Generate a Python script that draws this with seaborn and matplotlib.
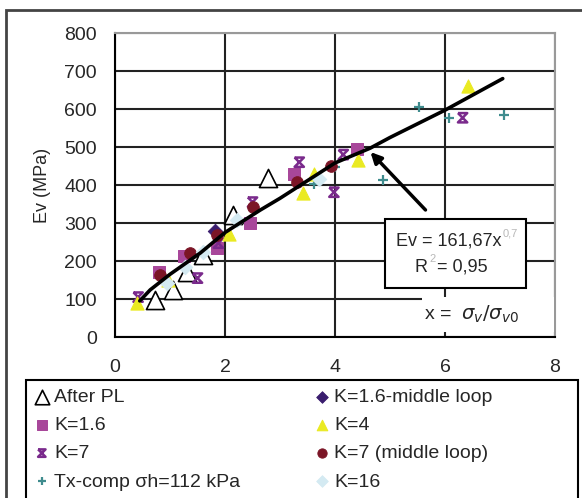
import matplotlib
matplotlib.use("Agg")
import matplotlib.pyplot as plt
import seaborn as sns
import pandas as pd
from matplotlib.path import Path
from matplotlib.patches import Rectangle

# series (x = sigma_v / sigma_v0, Ev in MPa)
after_pl_x = [0.73, 1.05, 1.3, 1.6, 2.15, 2.78]
after_pl_y = [97, 125, 170, 215, 320, 418]

k16_x = [0.8, 1.25, 1.85, 2.45, 3.25, 4.4]
k16_y = [170, 212, 235, 300, 428, 495]

k16_ml_x = [1.82]
k16_ml_y = [280]

k4_x = [0.4, 0.97, 2.08, 3.42, 3.62, 4.42, 6.42]
k4_y = [90, 150, 270, 380, 430, 466, 660]

k7_x = [0.42, 1.5, 1.88, 2.5, 3.35, 3.98, 4.15, 6.32]
k7_y = [105, 155, 247, 355, 460, 381, 480, 577]

k7_ml_x = [0.82, 1.37, 1.85, 2.5, 3.31, 3.92]
k7_ml_y = [163, 222, 268, 342, 408, 450]

tx_x = [3.62, 4.0, 4.88, 5.52, 6.07, 7.07]
tx_y = [402, 448, 413, 605, 576, 584]

k_16_x = [0.95, 1.28, 1.6, 2.22, 3.7]
k_16_y = [142, 184, 224, 308, 415]

fit_x = [0.45, 0.64, 1.0, 1.55, 2.0, 2.64, 3.0, 4.0, 4.64, 5.0, 6.0, 7.05]
fit_y = [95, 124, 165, 221, 275, 334, 365, 458, 497, 525, 597, 680]

x_ticks = [0, 2, 4, 6, 8]
y_ticks = [0, 100, 200, 300, 400, 500, 600, 700, 800]

sns.set_style("white")
plt.rcParams['font.family'] = ['Liberation Sans', 'DejaVu Sans']

W, H = 582, 498
fig = plt.figure(figsize=(W / 100, H / 100), dpi=100)
ax = fig.add_axes([115 / W, 1 - 337 / H, 440 / W, 304 / H])

# hourglass-like marker used for K=7
hg = Path([(-1, 1), (1, 1), (-1, -1), (1, -1), (-1, 1)],
          [Path.MOVETO, Path.LINETO, Path.LINETO, Path.LINETO, Path.LINETO])

series = [
    ("After PL", after_pl_x, after_pl_y, dict(marker="^", s=170, color="white", edgecolor="black", linewidth=1.2)),
    ("K=1.6", k16_x, k16_y, dict(marker="s", s=80, color="#a8479a", edgecolor="#a8479a")),
    ("K=7", k7_x, k7_y, dict(marker=hg, s=45, color="none", edgecolor="#7a2a8c", linewidth=1.8)),
    ("Tx-comp σh=112 kPa", tx_x, tx_y, dict(marker="+", s=60, color="#3f8c8e", linewidth=1.6)),
    ("K=1.6-middle loop", k16_ml_x, k16_ml_y, dict(marker="D", s=55, color="#3a1d6e", edgecolor="#3a1d6e")),
    ("K=4", k4_x, k4_y, dict(marker="^", s=90, color="#eaea22", edgecolor="#eaea22")),
    ("K=7 (middle loop)", k7_ml_x, k7_ml_y, dict(marker="o", s=70, color="#7b1526", edgecolor="#7b1526")),
    ("K=16", k_16_x, k_16_y, dict(marker="D", s=55, color="#d4eaf2", edgecolor="#d4eaf2")),
]

for name, xs, ys, kw in series:
    df = pd.DataFrame({"x": xs, "y": ys})
    sns.scatterplot(data=df, x="x", y="y", ax=ax, label=name, zorder=3, **kw)

sns.lineplot(x=fit_x, y=fit_y, ax=ax, color="black", linewidth=2.6, sort=False, zorder=4)

h, l = ax.get_legend_handles_labels()
ax.get_legend().remove()

ax.set_xlim(0, 8)
ax.set_ylim(0, 800)
ax.set_xticks(x_ticks)
ax.set_yticks(y_ticks)
ax.set_xlabel("")
ax.set_ylabel("Ev (MPa)", fontsize=13)
ax.yaxis.set_label_coords(-0.145, 0.5)
ax.grid(True, color="#222222", linewidth=1.5)
ax.set_axisbelow(True)
ax.tick_params(axis="both", labelsize=14, length=6, width=1.5, direction="out", color="black")
ax.tick_params(axis="x", pad=10)
ax.tick_params(axis="y", pad=7)
ax.spines["left"].set_color("black")
ax.spines["bottom"].set_color("black")
ax.spines["left"].set_linewidth(1.5)
ax.spines["bottom"].set_linewidth(1.5)
ax.spines["top"].set_color("#999999")
ax.spines["right"].set_color("#999999")
ax.spines["top"].set_linewidth(1.5)
ax.spines["right"].set_linewidth(1.5)

# arrow to the curve
ax.annotate("", xy=(4.61, 492), xytext=(5.68, 329),
            arrowprops=dict(arrowstyle="-|>", color="black", lw=2.5, mutation_scale=16), zorder=5)


def fx(px):
    return px / W


def fy(py):
    return 1 - py / H


# equation box
fig.add_artist(Rectangle((fx(385), fy(288)), 141 / W, 69 / H, transform=fig.transFigure,
                         facecolor="white", edgecolor="black", linewidth=1.5, zorder=6))
fig.text(fx(502), fy(241), "Ev = 161,67x", ha="right", va="center", fontsize=13, zorder=7)
fig.text(fx(503), fy(233), "0,7", ha="left", va="center", fontsize=8, color="#b8b8b8", zorder=7)
fig.text(fx(415), fy(267), "R", ha="left", va="center", fontsize=13, zorder=7)
fig.text(fx(429), fy(259), "2", ha="left", va="center", fontsize=8, color="#b8b8b8", zorder=7)
fig.text(fx(437), fy(267), "= 0,95", ha="left", va="center", fontsize=13, zorder=7)

# x definition with white background
fig.add_artist(Rectangle((fx(422), fy(332)), 132 / W, 35 / H, transform=fig.transFigure,
                         facecolor="white", edgecolor="none", zorder=6))
fig.text(fx(424), fy(314), r"x =  $\sigma_{v}/\sigma_{v0}$", ha="left", va="center",
         fontsize=14, zorder=7)

# outer frame and legend frame
fig.add_artist(Rectangle((fx(6), fy(540)), 600 / W, 530 / H, transform=fig.transFigure,
                         facecolor="none", edgecolor="#444444", linewidth=2))
fig.add_artist(Rectangle((fx(26), fy(540)), 552 / W, 160 / H, transform=fig.transFigure,
                         facecolor="none", edgecolor="black", linewidth=1.5))

leg_kw = dict(frameon=False, fontsize=14, handlelength=0.7, handletextpad=0.3,
              labelspacing=0.55, borderpad=0, borderaxespad=0, loc="upper left",
              markerscale=0.8)
fig.legend(h[:4], l[:4], bbox_to_anchor=(fx(35), fy(388)), **leg_kw)
fig.legend(h[4:], l[4:], bbox_to_anchor=(fx(315), fy(388)), **leg_kw)

fig.savefig("out.png", dpi=100)
